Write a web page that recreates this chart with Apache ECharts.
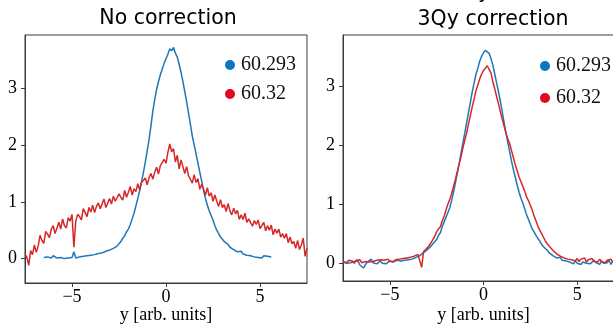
<!DOCTYPE html>
<html>
<head>
<meta charset="utf-8">
<script src="https://cdn.jsdelivr.net/npm/echarts@6/dist/echarts.min.js"></script>
<style>
  html, body { margin: 0; padding: 0; background: #fff; }
  #chart { width: 613px; height: 324px; }
</style>
</head>
<body>
<div id="chart"></div>
<script>
const STEP = 0.1;

// left panel: no correction
const noCorrBlueStart = -6.5;
const noCorrBlue = [
  0.02, 0.05, 0.03, 0.04, 0.01, 0.05, 0.03, 0.01, 0.04, 0.02,
  0.03, 0.0, 0.02, 0.01, -0.01, 0.02, 0.12, 0.01, -0.02, 0.03,
  0.0, 0.04, 0.02, 0.05, 0.03, 0.06, 0.04, 0.07, 0.06, 0.09,
  0.08, 0.1, 0.09, 0.13, 0.12, 0.15, 0.14, 0.18, 0.16, 0.22,
  0.26, 0.3, 0.36, 0.4, 0.47, 0.52, 0.6, 0.7, 0.8, 0.93,
  1.06, 1.2, 1.36, 1.52, 1.7, 1.9, 2.1, 2.34, 2.6, 2.8,
  2.98, 3.12, 3.24, 3.34, 3.44, 3.52, 3.6, 3.7, 3.66, 3.72,
  3.62, 3.55, 3.42, 3.28, 3.12, 2.94, 2.76, 2.56, 2.36, 2.16,
  2.0, 1.84, 1.68, 1.52, 1.36, 1.2, 1.06, 0.94, 0.84, 0.76,
  0.68, 0.58, 0.5, 0.44, 0.38, 0.35, 0.3, 0.27, 0.25, 0.2,
  0.19, 0.16, 0.17, 0.12, 0.11, 0.13, 0.08, 0.1, 0.06, 0.08,
  0.05, 0.07, 0.03, 0.06, 0.02, 0.05, 0.01, 0.05, 0.02, 0.04,
  0.01, 0.03
];
const noCorrRedStart = -7.5;
const noCorrRed = [
  0.08, 0.02, -0.12, 0.14, 0.07, 0.24, 0.11, 0.22, 0.41, 0.32,
  0.27, 0.48, 0.43, 0.37, 0.52, 0.58, 0.44, 0.54, 0.64, 0.52,
  0.7, 0.58, 0.54, 0.72, 0.66, 0.78, 0.2, 0.66, 0.78, 0.74,
  0.68, 0.88, 0.81, 0.74, 0.9, 0.82, 0.94, 0.81, 0.92, 0.98,
  0.88, 0.96, 1.05, 0.9, 0.98, 1.06, 0.96, 1.1, 1.01, 0.98,
  1.14, 1.08, 1.03, 1.2, 1.08, 1.17, 1.27, 1.12, 1.23, 1.18,
  1.32, 1.21, 1.34, 1.31, 1.42, 1.3, 1.43, 1.5, 1.4, 1.52,
  1.61, 1.49, 1.64, 1.62, 1.75, 1.68, 1.87, 2.02, 1.88, 1.94,
  1.7, 1.82, 1.58, 1.74, 1.62, 1.5, 1.62, 1.46, 1.48, 1.33,
  1.48, 1.34, 1.41, 1.22, 1.31, 1.22, 1.12, 1.25, 1.1, 1.16,
  1.01, 1.12, 1.01, 0.92, 1.04, 0.9, 0.95, 0.83, 0.97, 0.84,
  0.77, 0.89, 0.79, 0.85, 0.69, 0.77, 0.69, 0.8, 0.64, 0.7,
  0.72, 0.57, 0.67, 0.6, 0.68, 0.53, 0.58, 0.64, 0.49, 0.58,
  0.5, 0.59, 0.42, 0.52, 0.45, 0.52, 0.38, 0.44, 0.36, 0.44,
  0.28, 0.38, 0.26, 0.3, 0.18, 0.32, 0.16, 0.24, 0.36, 0.04,
  0.18
];

// right panel: 3Qy correction
const corrBlueStart = -7.5;
const corrBlue = [
  0.02, 0.04, 0.0, 0.03, 0.01, -0.02, 0.03, 0.01, 0.04, -0.03,
  0.0, -0.08, -0.02, 0.02, 0.0, 0.07, 0.01, 0.03, -0.01, 0.02,
  0.04, 0.0, 0.03, -0.01, 0.02, 0.04, 0.01, 0.03, 0.0, 0.05,
  0.02, 0.04, 0.02, 0.05, 0.03, 0.06, 0.04, 0.07, 0.08, 0.1,
  0.1, 0.13, 0.14, 0.18, 0.19, 0.23, 0.25, 0.29, 0.33, 0.36,
  0.4, 0.47, 0.52, 0.62, 0.7, 0.78, 0.86, 0.94, 1.06, 1.2,
  1.36, 1.52, 1.68, 1.86, 2.03, 2.2, 2.38, 2.55, 2.72, 2.9,
  3.05, 3.2, 3.3, 3.42, 3.5, 3.56, 3.6, 3.63, 3.55, 3.46,
  3.35, 3.2, 3.05, 2.9, 2.74, 2.56, 2.38, 2.2, 2.04, 1.88,
  1.72, 1.58, 1.45, 1.32, 1.2, 1.1, 1.02, 0.92, 0.82, 0.74,
  0.66, 0.58, 0.53, 0.47, 0.42, 0.38, 0.32, 0.28, 0.25, 0.22,
  0.18, 0.16, 0.13, 0.1, 0.09, 0.07, 0.1, 0.05, 0.08, 0.04,
  0.06, 0.02, 0.05, -0.01, 0.04, 0.0, 0.03, -0.02, 0.02, 0.04,
  0.0, 0.03, -0.01, 0.02, 0.05, 0.01, 0.03, -0.02, 0.04, 0.0,
  0.03, 0.01, 0.05, -0.02, 0.03, 0.07, 0.02, 0.04, 0.0, 0.03,
  0.02
];
const corrRedStart = -7.5;
const corrRed = [
  0.03, 0.06, 0.01, 0.05, 0.02, 0.04, 0.0, 0.05, 0.02, 0.06,
  0.01, 0.04, 0.03, 0.06, 0.02, 0.05, 0.03, 0.01, 0.05, 0.02,
  0.06, 0.03, 0.05, 0.02, 0.07, 0.03, 0.05, 0.02, 0.06, 0.04,
  0.07, 0.05, 0.08, 0.06, 0.09, 0.07, 0.1, 0.09, 0.12, 0.11,
  0.15, 0.14, -0.07, 0.2, 0.22, 0.26, 0.3, 0.35, 0.4, 0.46,
  0.53, 0.58, 0.62, 0.72, 0.8, 0.9, 1.0, 1.08, 1.18, 1.3,
  1.42, 1.55, 1.68, 1.8, 1.95, 2.08, 2.2, 2.36, 2.5, 2.65,
  2.78, 2.92, 3.02, 3.12, 3.2, 3.26, 3.3, 3.34, 3.28, 3.22,
  3.06, 2.95, 2.82, 2.7, 2.56, 2.44, 2.32, 2.2, 2.1, 2.02,
  1.9, 1.78, 1.66, 1.56, 1.46, 1.38, 1.3, 1.22, 1.12, 1.06,
  0.98, 0.9, 0.8, 0.72, 0.63, 0.56, 0.5, 0.44, 0.38, 0.33,
  0.29, 0.26, 0.22, 0.2, 0.16, 0.15, 0.12, 0.14, 0.09, 0.12,
  0.07, 0.1, 0.06, 0.09, 0.04, 0.08, 0.03, 0.07, 0.04, 0.09,
  0.02, 0.06, 0.04, 0.08, 0.03, 0.05, 0.02, 0.07, 0.03, 0.06,
  0.01, 0.05, 0.03, 0.07, 0.02, 0.05, 0.0, 0.04, 0.02, 0.05,
  0.03
];

const yTicks = [0, 1, 2, 3];
const xTicks = [-5, 0, 5];
const titles = ['No correction', '3Qy correction'];
const legendNames = ['60.293', '60.32'];

const BLUE = '#1f77b4';
const RED = '#d62728';
const SPINE = '#3a3a3a';
const SERIF = 'Liberation Serif';

function toPoints(start, values) {
  return values.map((v, i) => [+(start + i * STEP).toFixed(1), v]);
}

function xAxisFor(gridIndex, nameGap) {
  return {
    type: 'value',
    gridIndex,
    min: -7.5,
    max: 7.5,
    name: 'y [arb. units]',
    nameLocation: 'middle',
    nameGap,
    nameMoveOverlap: false,
    nameTextStyle: { fontFamily: SERIF, fontSize: 18, color: '#000' },
    axisLine: { show: true, onZero: false, lineStyle: { color: SPINE, width: 1 } },
    axisTick: { show: true, length: 4, customValues: xTicks, lineStyle: { color: SPINE } },
    axisLabel: {
      customValues: xTicks,
      margin: 5,
      fontFamily: SERIF,
      fontSize: 18,
      color: '#000',
      formatter: (v) => String(v).replace('-', '\u2212'),
    },
    splitLine: { show: false },
  };
}

function yAxisFor(gridIndex, min, max) {
  return {
    type: 'value',
    gridIndex,
    min,
    max,
    axisLine: { show: true, onZero: false, lineStyle: { color: SPINE, width: 1 } },
    axisTick: { show: true, length: 4, customValues: yTicks, lineStyle: { color: SPINE } },
    axisLabel: {
      customValues: yTicks,
      margin: 8,
      fontFamily: SERIF,
      fontSize: 18,
      color: '#000',
    },
    splitLine: { show: false },
  };
}

function lineSeries(name, idx, color, points) {
  return {
    name,
    type: 'line',
    xAxisIndex: idx,
    yAxisIndex: idx,
    data: points,
    showSymbol: false,
    lineStyle: { color, width: 1.5 },
    itemStyle: { color },
    animation: false,
  };
}

function legendFor(left, top, gap) {
  return {
    orient: 'vertical',
    left,
    top,
    itemGap: gap,
    itemWidth: 10,
    itemHeight: 10,
    icon: 'circle',
    selectedMode: false,
    textStyle: { fontFamily: SERIF, fontSize: 20, color: '#111', padding: [0, 0, 0, 1] },
    data: [
      { name: legendNames[0], itemStyle: { color: '#0b78bd' } },
      { name: legendNames[1], itemStyle: { color: '#e5061f' } },
    ],
  };
}

const chart = echarts.init(document.getElementById('chart'), null, { renderer: 'canvas' });

chart.setOption({
  backgroundColor: '#fff',
  animation: false,
  graphic: [
    {
      type: 'text',
      x: 168,
      y: 19,
      style: { text: titles[0], fontFamily: 'DejaVu Sans', fontSize: 20.5, fill: '#000', align: 'center', verticalAlign: 'middle' },
    },
    {
      type: 'text',
      x: 493,
      y: 19.5,
      style: { text: titles[1], fontFamily: 'DejaVu Sans', fontSize: 20.5, fill: '#000', align: 'center', verticalAlign: 'middle' },
    },
    {
      // tail of the figure's clipped suptitle
      type: 'text',
      x: 484,
      y: 3,
      style: { text: 'y', fontFamily: 'DejaVu Sans', fontSize: 20.5, fill: '#000', align: 'center', verticalAlign: 'bottom' },
    },
  ],
  grid: [
    { left: 25, top: 35, width: 282, height: 248, outerBoundsMode: 'none', show: true, borderColor: SPINE, borderWidth: 1, backgroundColor: 'transparent' },
    { left: 343, top: 35, width: 281, height: 246, outerBoundsMode: 'none', show: true, borderColor: SPINE, borderWidth: 1, backgroundColor: 'transparent' },
  ],
  xAxis: [xAxisFor(0, 23), xAxisFor(1, 25)],
  yAxis: [yAxisFor(0, -0.43, 3.94), yAxisFor(1, -0.3, 3.86)],
  legend: [legendFor(220, 50, 9), legendFor(535, 51, 12)],
  series: [
    lineSeries(legendNames[0], 0, BLUE, toPoints(noCorrBlueStart, noCorrBlue)),
    lineSeries(legendNames[1], 0, RED, toPoints(noCorrRedStart, noCorrRed)),
    lineSeries(legendNames[0], 1, BLUE, toPoints(corrBlueStart, corrBlue)),
    lineSeries(legendNames[1], 1, RED, toPoints(corrRedStart, corrRed)),
  ],
});
</script>
</body>
</html>
